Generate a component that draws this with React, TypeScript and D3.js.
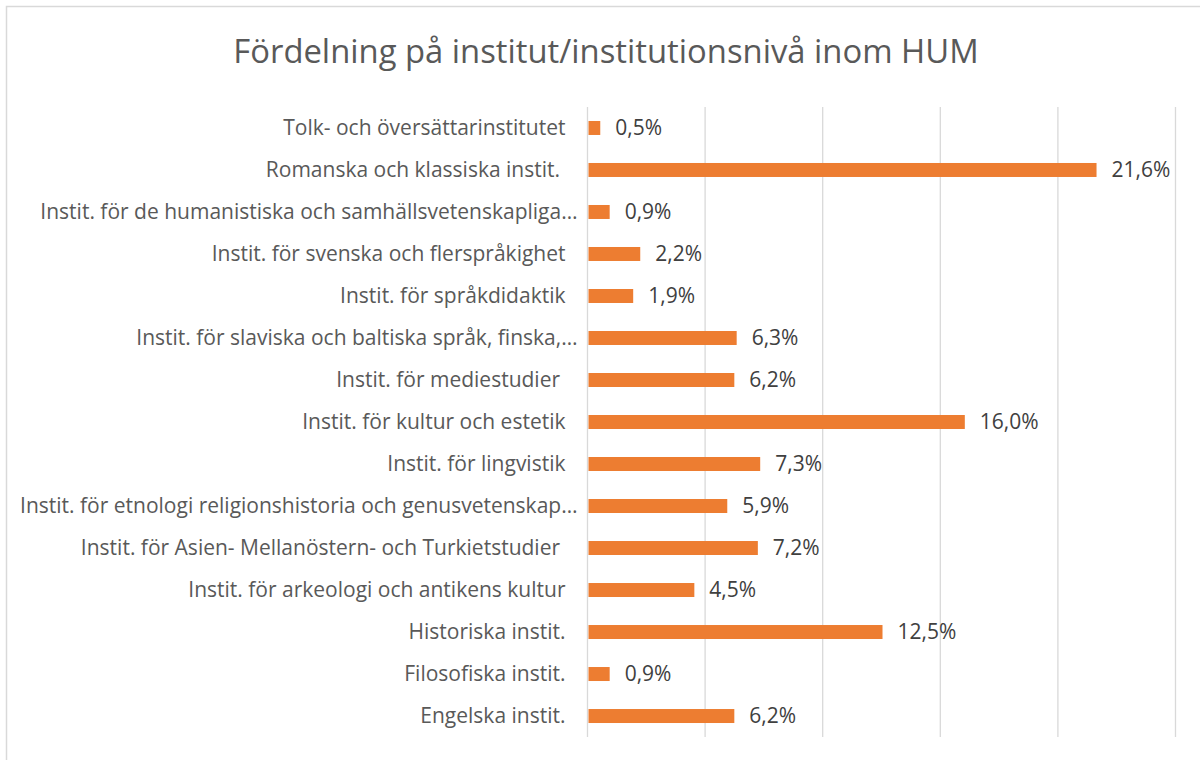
import { useEffect, useRef } from "react";
import * as d3 from "d3";

const categories = [
  "Tolk- och översättarinstitutet",
  "Romanska och klassiska instit. ",
  "Instit. för de humanistiska och samhällsvetenskapliga…",
  "Instit. för svenska och flerspråkighet",
  "Instit. för språkdidaktik",
  "Instit. för slaviska och baltiska språk, finska,…",
  "Instit. för mediestudier ",
  "Instit. för kultur och estetik",
  "Instit. för lingvistik",
  "Instit. för etnologi religionshistoria och genusvetenskap…",
  "Instit. för Asien- Mellanöstern- och Turkietstudier ",
  "Instit. för arkeologi och antikens kultur",
  "Historiska instit.",
  "Filosofiska instit.",
  "Engelska instit.",
];
const values = [0.5, 21.6, 0.9, 2.2, 1.9, 6.3, 6.2, 16.0, 7.3, 5.9, 7.2, 4.5, 12.5, 0.9, 6.2];
const xTicks = [0, 5, 10, 15, 20, 25];
const title = "Fördelning på institut/institutionsnivå inom HUM";

const App = () => {
  const svgRef = useRef<SVGSVGElement>(null);

  useEffect(() => {
    const svg = d3.select(svgRef.current);
    svg.selectAll("*").remove();

    const font = "'Open Sans', sans-serif";
    const left = 587.5;
    const right = 1175.5;
    const top = 107;
    const bottom = 737;

    svg
      .append("rect")
      .attr("x", 6.5)
      .attr("y", 6.5)
      .attr("width", 1210)
      .attr("height", 780)
      .attr("fill", "#fff")
      .attr("stroke", "#d9d9d9")
      .attr("stroke-width", 1.5);

    svg
      .append("text")
      .attr("x", 606)
      .attr("y", 63)
      .attr("text-anchor", "middle")
      .style("font-family", font)
      .style("font-size", "32.8px")
      .style("fill", "#595959")
      .text(title);

    const x = d3.scaleLinear().domain([0, 25]).range([left, right]);
    const y = d3
      .scaleBand()
      .domain(categories)
      .range([top, bottom])
      .paddingInner(0.667)
      .paddingOuter(0.333);

    svg
      .selectAll(".grid")
      .data(xTicks)
      .enter()
      .append("line")
      .attr("x1", (d) => x(d))
      .attr("x2", (d) => x(d))
      .attr("y1", top)
      .attr("y2", bottom)
      .attr("stroke", "#d9d9d9")
      .attr("stroke-width", 1.3);

    svg
      .selectAll(".bar")
      .data(values)
      .enter()
      .append("rect")
      .attr("x", x(0) + 1)
      .attr("y", (d, i) => y(categories[i])!)
      .attr("width", (d) => x(d) - x(0))
      .attr("height", y.bandwidth())
      .attr("fill", "#ED7D31");

    // truncated labels (ending in …) sit closer to the axis, as in Excel
    svg
      .selectAll(".cat")
      .data(categories)
      .enter()
      .append("text")
      .attr("x", (d) => (d.endsWith("…") ? left - 10 : left - 22))
      .attr("y", (d) => y(d)! + y.bandwidth() / 2)
      .attr("dy", "0.35em")
      .attr("text-anchor", "end")
      .attr("xml:space", "preserve")
      .style("white-space", "pre")
      .style("font-family", font)
      .style("font-size", "21px")
      .style("fill", "#595959")
      .text((d) => d);

    svg
      .selectAll(".val")
      .data(values)
      .enter()
      .append("text")
      .attr("x", (d) => x(d) + 16)
      .attr("y", (d, i) => y(categories[i])! + y.bandwidth() / 2)
      .attr("dy", "0.35em")
      .style("font-family", font)
      .style("font-size", "21px")
      .style("fill", "#404040")
      .text((d) => d.toFixed(1).replace(".", ",") + "%");
  }, []);

  return (
    <svg
      ref={svgRef}
      width={1200}
      height={760}
      style={{ position: "absolute", left: 0, top: 0, background: "#fff" }}
    ></svg>
  );
};

export default App;
